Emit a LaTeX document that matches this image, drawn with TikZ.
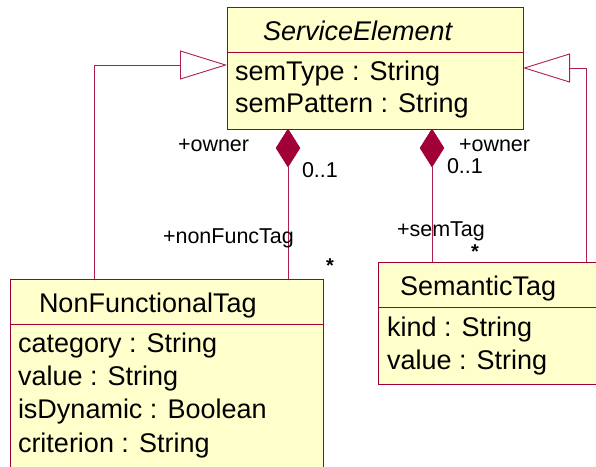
\documentclass[tikz,border=0pt]{standalone}
\usepackage{fontspec}
\setmainfont{Liberation Sans}
\usetikzlibrary{shapes.geometric,arrows.meta}
\definecolor{umlred}{RGB}{160,0,55}
\definecolor{umlline}{RGB}{175,30,80}
\definecolor{umlfill}{RGB}{255,255,204}
\begin{document}
\begin{tikzpicture}[x=1pt,y=-1pt,
  every node/.style={inner sep=0pt, outer sep=0pt},
  classbox/.style={draw=umlred, fill=umlfill, line width=1pt, rectangle, anchor=north west},
  divider/.style={draw=umlred, line width=0.8pt},
  big/.style={font=\fontsize{27}{30}\selectfont, anchor=base west},
  small/.style={font=\fontsize{21.5}{24}\selectfont, anchor=base west},
  star/.style={font=\bfseries\fontsize{20}{24}\selectfont},
  conn/.style={draw=umlline, line width=0.9pt},
  compdiamond/.style={diamond, fill=umlred, draw=umlred, minimum width=24pt, minimum height=38pt},
  genarrow/.style={-{Triangle[open, length=47pt, width=29pt, line width=0.9pt]}}]
\useasboundingbox (0,0) rectangle (596,466);
\clip (0,0) rectangle (596,466);
% class boxes
\node[classbox, minimum width=296pt, minimum height=122pt] (se) at (227,7) {};
\node[classbox, minimum width=313pt, minimum height=200pt] (nft) at (10,279) {};
\node[classbox, minimum width=230pt, minimum height=122pt] (st) at (378,262) {};
% compartments
\coordinate (sediv) at (0,52);
\coordinate (nftdiv) at (0,324);
\coordinate (stdiv) at (0,307);
\draw[divider] (se.west |- sediv) -- (se.east |- sediv);
\draw[divider] (nft.west |- nftdiv) -- (nft.east |- nftdiv);
\draw[divider] (st.west |- stdiv) -- (st.east |- stdiv);
% texts
\node[big, font=\itshape\fontsize{27}{30}\selectfont] (sename) at (263,40) {ServiceElement};
\node[big] (sea1) at (235,80) {semType : String};
\node[big] (sea2) at (235,112) {semPattern : String};
\node[big] (nftname) at (39,312) {NonFunctionalTag};
\node[big] (nfta1) at (18,352) {category : String};
\node[big] (nfta2) at (18,385) {value : String};
\node[big] (nfta3) at (18,418) {isDynamic : Boolean};
\node[big] (nfta4) at (18,452) {criterion : String};
\node[big] (stname) at (400,295) {SemanticTag};
\node[big] (sta1) at (387,336) {kind : String};
\node[big] (sta2) at (387,369) {value : String};
% compositions
\node[compdiamond] (d1) at (288,148) {};
\node[compdiamond] (d2) at (432,148) {};
\draw[conn] (d1.south) -- (d1.south |- nft.north);
\draw[conn] (d2.south) -- (d2.south |- st.north);
% generalizations
\coordinate (g1x) at (94,65);
\coordinate (g2x) at (586,68);
\draw[conn, genarrow] (nft.north -| g1x) -- (g1x) -- (se.west |- g1x);
\draw[conn, genarrow] (st.north -| g2x) -- (g2x) -- (se.east |- g2x);
% role labels
\node[small] (own1) at (178,151) {+owner};
\node[small] (m1) at (302,177) {0..1};
\node[small] (own2) at (459,151) {+owner};
\node[small] (m2) at (447,173) {0..1};
\node[small] (r1) at (163,243) {+nonFuncTag};
\node[small] (r2) at (397,236) {+semTag};
\node[star] (s1) at (330,266) {*};
\node[star] (s2) at (475,252) {*};
\end{tikzpicture}
\end{document}
